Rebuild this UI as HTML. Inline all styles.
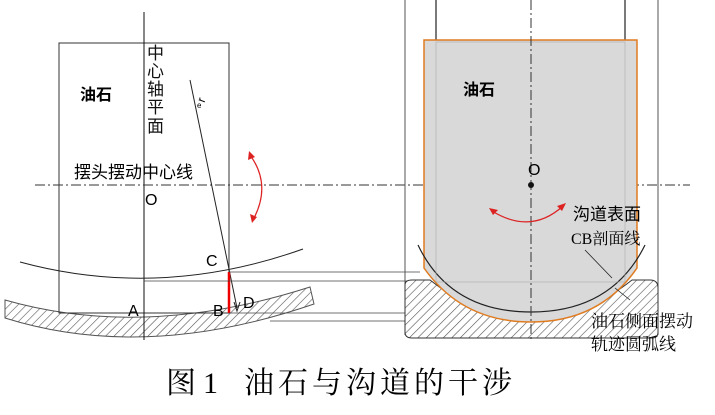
<!DOCTYPE html>
<html><head><meta charset="utf-8"><style>
html,body{margin:0;padding:0;background:#fff;}
svg{display:block;}
.s{font-family:"Liberation Sans","Noto Sans CJK SC",sans-serif;}
.f{font-family:"Liberation Serif","Noto Serif CJK SC",serif;}
</style></head><body>
<svg width="715" height="415" viewBox="0 0 715 415" xmlns="http://www.w3.org/2000/svg">
<defs>
<pattern id="h" width="6" height="6" patternUnits="userSpaceOnUse" patternTransform="rotate(45)">
<rect width="6" height="6" fill="#fff"/><line x1="0" y1="0" x2="0" y2="6" stroke="#555" stroke-width="1.2"/>
</pattern>
</defs>
<g class="s">
<!-- LEFT -->
<path d="M5,300 Q145,340 310,287 L314,304 Q145,362 5,318 Z" fill="url(#h)" stroke="#555" stroke-width="1"/>
<rect x="59" y="43" width="170" height="270" fill="none" stroke="#333" stroke-width="1"/>
<line x1="144" y1="12" x2="144" y2="340" stroke="#111" stroke-width="1"/>
<line x1="35" y1="185" x2="690" y2="185" stroke="#333" stroke-width="1" stroke-dasharray="10,3,2,3"/>
<path d="M20,262 Q160,300 303,249" fill="none" stroke="#222" stroke-width="1"/>
<line x1="190" y1="80" x2="237" y2="308" stroke="#222" stroke-width="1"/>
<path d="M234,302 L237,311 L240,302" fill="none" stroke="#222"/>
<line x1="229" y1="272" x2="229" y2="313" stroke="#e00" stroke-width="2.5"/>
<line x1="229" y1="272" x2="420" y2="272" stroke="#444" stroke-width="0.8"/>
<line x1="144" y1="281" x2="425" y2="281" stroke="#444" stroke-width="0.8"/>
<line x1="229" y1="313" x2="430" y2="313" stroke="#444" stroke-width="0.8"/>
<line x1="270" y1="321" x2="440" y2="321" stroke="#444" stroke-width="0.8"/>
<path d="M250,155 Q272,185 253,220" fill="none" stroke="#d22" stroke-width="1.2"/>
<path d="M248,160 L249,151 L255,157 Z M250,214 L252,223 L257,217 Z" fill="#d22"/>
<text x="80" y="100" font-size="16" font-weight="bold">油石</text>
<text font-size="17" fill="#111"><tspan x="147" y="59">中</tspan><tspan x="147" y="77">心</tspan><tspan x="147" y="95">轴</tspan><tspan x="147" y="113">平</tspan><tspan x="147" y="132">面</tspan></text>
<text x="198" y="102" font-size="12" transform="rotate(-70 202 98)">r</text>
<text x="197" y="108" font-size="8">e</text>
<text x="74" y="178" font-size="17">摆头摆动中心线</text>
<text x="145" y="205" font-size="16">O</text>
<text x="206" y="266" font-size="16">C</text>
<text x="128" y="316" font-size="16">A</text>
<text x="213" y="316" font-size="16">B</text>
<text x="243" y="308" font-size="16">D</text>
<!-- RIGHT -->
<line x1="405" y1="0" x2="405" y2="335" stroke="#555" stroke-width="1"/>
<line x1="658" y1="0" x2="658" y2="335" stroke="#555" stroke-width="1"/>
<line x1="436" y1="0" x2="436" y2="42" stroke="#222" stroke-width="1.2"/>
<line x1="625" y1="0" x2="625" y2="42" stroke="#222" stroke-width="1.2"/>
<path d="M405,285 Q405,280 412,280 L430,280 Q531,360 632,280 L650,280 Q658,280 658,288 L658,332 Q658,338 652,338 L412,338 Q405,338 405,332 Z" fill="url(#h)" stroke="#333" stroke-width="1"/>
<path d="M424,40 L637,40 L637,268 Q600,322 531,322 Q462,322 424,268 Z" fill="#d9d9d9" stroke="#e07b20" stroke-width="1.5"/>
<path d="M418,245 Q450,312 531,312 Q612,312 645,245" fill="none" stroke="#222" stroke-width="1.2"/>
<rect x="436" y="42" width="189" height="240" fill="none" stroke="#aaa" stroke-width="0.6"/>
<line x1="531" y1="0" x2="531" y2="340" stroke="#333" stroke-width="1" stroke-dasharray="10,3,2,3"/>
<circle cx="531" cy="185" r="3" fill="#111"/>
<path d="M492,211 Q531,235 563,206" fill="none" stroke="#d22" stroke-width="1.2"/>
<path d="M489,208 L498,210 L493,215 Z M566,203 L557,206 L562,211 Z" fill="#d22"/>
<line x1="585" y1="250" x2="612" y2="278" stroke="#222" stroke-width="0.8"/>
<line x1="615" y1="288" x2="630" y2="300" stroke="#222" stroke-width="0.8"/>
<text x="463" y="95" font-size="16" font-weight="bold">油石</text>
<text x="528" y="175" font-size="16">O</text>
<text x="573" y="220" font-size="17">沟道表面</text>
<text x="571" y="244" font-size="16" class="f">CB剖面线</text>
<text x="591" y="327" font-size="17" class="f">油石侧面摆动</text>
<text x="591" y="350" font-size="17" class="f">轨迹圆弧线</text>
<text x="166" y="393" font-size="30" class="f" textLength="52" lengthAdjust="spacing">图 1</text>
<text x="244" y="393" font-size="30" class="f" textLength="268" lengthAdjust="spacing">油石与沟道的干涉</text>
</g>
</svg>
</body></html>
